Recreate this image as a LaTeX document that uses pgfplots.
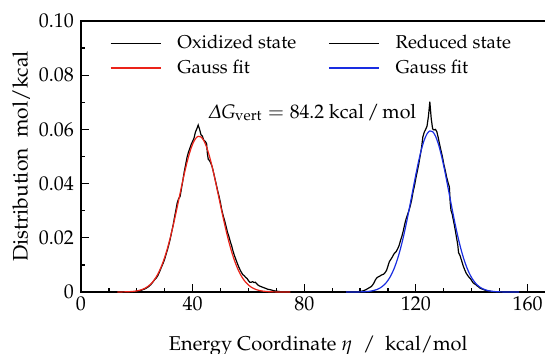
\documentclass[border=0pt]{standalone}
\usepackage[T1]{fontenc}
\usepackage[slantedGreek]{mathpazo}
\usepackage{pgfplots}
\pgfplotsset{compat=1.18}
\definecolor{fitred}{RGB}{235,35,25}
\definecolor{fitblue}{RGB}{25,45,225}

\pgfplotstableread{
x y
18 0
20 0.0002
21 0.0004
22 0.0008
23 0.0012
24 0.0018
25 0.0027
26 0.0040
26.5 0.0047
27 0.0052
27.5 0.0060
28 0.0071
29 0.0096
29.5 0.0108
30 0.0122
30.5 0.0140
31 0.0156
32 0.0197
32.5 0.0222
33 0.0246
33.5 0.0275
34 0.0302
34.5 0.0330
35 0.0345
35.5 0.0352
36 0.0382
36.5 0.0412
37 0.0444
37.5 0.0470
38 0.0497
38.5 0.0516
39 0.0530
39.5 0.0545
40 0.0556
40.5 0.0568
41 0.0590
41.5 0.0602
42 0.0616
42.5 0.0600
43 0.0580
43.5 0.0575
44 0.0560
44.5 0.0556
45 0.0548
45.3 0.0510
45.6 0.0490
46 0.0486
46.5 0.0476
47 0.0462
47.5 0.0441
48 0.0418
48.5 0.0396
49 0.0372
49.5 0.0352
50 0.0328
50.5 0.0300
51 0.0280
51.5 0.0262
52 0.0242
52.5 0.0220
53 0.0205
53.5 0.0186
54 0.0170
54.5 0.0150
55 0.0134
55.5 0.0120
56 0.0106
56.5 0.0093
57 0.0082
57.5 0.0072
58 0.0064
58.5 0.0060
59 0.0054
59.5 0.0050
60 0.0042
60.5 0.0036
61 0.0036
61.5 0.0038
62 0.0035
62.5 0.0036
63 0.0030
63.5 0.0025
64 0.0022
64.5 0.0020
65 0.0018
66 0.0014
67 0.0010
68 0.0008
69 0.0005
70 0.0003
71 0.0002
72 0
78 0
}\oxid

\pgfplotstableread{
x y
96 0
98 0
100 0.0002
101 0.0004
102 0.0008
103 0.0014
104 0.0020
104.5 0.0026
105 0.0034
105.5 0.0045
106 0.0052
106.5 0.0056
107 0.0058
107.5 0.0062
108 0.0064
108.5 0.0066
109 0.0072
109.5 0.0080
110 0.0096
110.5 0.0112
111 0.0120
111.5 0.0128
112 0.0138
112.5 0.0145
113 0.0150
113.5 0.0160
114 0.0172
114.5 0.0190
115 0.0206
115.5 0.0226
116 0.0250
116.5 0.0270
117 0.0285
117.5 0.0300
118 0.0318
118.5 0.0340
119 0.0370
119.5 0.0392
120 0.0420
120.5 0.0445
121 0.0470
121.5 0.0500
122 0.0530
122.5 0.0572
123 0.0590
123.5 0.0600
124 0.0612
124.5 0.0648
125 0.0702
125.5 0.0640
126 0.0602
126.5 0.0598
127 0.0600
127.5 0.0592
128 0.0570
128.5 0.0545
129 0.0522
129.5 0.0500
130 0.0472
130.5 0.0450
131 0.0425
131.5 0.0405
132 0.0388
132.3 0.0330
132.6 0.0300
133 0.0288
133.5 0.0262
134 0.0235
134.5 0.0205
135 0.0175
135.3 0.0145
135.8 0.0135
136.5 0.0112
137 0.0095
137.5 0.0082
138 0.0070
138.5 0.0062
139 0.0055
139.5 0.0050
140 0.0042
140.5 0.0034
141 0.0030
141.5 0.0027
142 0.0022
142.5 0.0019
143 0.0014
144 0.0010
145 0.0006
146 0.0004
147 0.0002
148 0
156 0
}\redu

\pgfplotstableread{
x y
13 0.00001
15 0.00004
17 0.0001
19 0.00026
20 0.00041
21 0.00064
22 0.00097
23 0.00143
24 0.00208
25 0.00295
26 0.00412
27 0.00564
28 0.00757
29 0.00994
30 0.01282
31 0.01620
32 0.02008
33 0.02439
34 0.02903
35 0.03389
36 0.03879
37 0.04352
38 0.04786
39 0.05161
40 0.05456
41 0.05654
42 0.05745
43 0.05722
44 0.05587
45 0.05349
46 0.05020
47 0.04618
48 0.04166
49 0.03684
50 0.03194
51 0.02714
52 0.02261
53 0.01847
54 0.01479
55 0.01161
56 0.00893
57 0.00674
58 0.00499
59 0.00362
60 0.00257
61 0.00179
62 0.00122
63 0.00082
64 0.00054
65 0.00035
67 0.00014
69 0.00005
72 0.00001
75 0
}\redfit

\pgfplotstableread{
x y
95 0
98 0.00001
100 0.00004
102 0.00013
103 0.00022
104 0.00036
105 0.00058
106 0.00091
107 0.00138
108 0.00206
109 0.00301
110 0.00429
111 0.00598
112 0.00815
113 0.01087
114 0.01417
115 0.01806
116 0.02251
117 0.02744
118 0.03270
119 0.03809
120 0.04339
121 0.04834
122 0.05265
123 0.05607
124 0.05838
125 0.05944
126 0.05917
127 0.05760
128 0.05482
129 0.05101
130 0.04642
131 0.04130
132 0.03593
133 0.03057
134 0.02542
135 0.02067
136 0.01643
137 0.01278
138 0.00972
139 0.00722
140 0.00525
141 0.00373
142 0.00259
143 0.00176
144 0.00117
145 0.00076
146 0.00048
148 0.00018
150 0.00006
153 0.00001
157 0
}\bluefit

\begin{document}
\begin{tikzpicture}
\begin{axis}[name=ax, scale only axis, width=237.2pt, height=135.5pt,
  xmin=0, xmax=170, ymin=0, ymax=0.1,
  xtick={0,40,80,120,160}, minor x tick num=3,
  ytick={0,0.02,0.04,0.06,0.08,0.1}, yticklabels={0,0.02,0.04,0.06,0.08,0.10},
  minor y tick num=1,
  tick align=inside, xtick pos=bottom, ytick pos=left,
  major tick length=4pt, minor tick length=2pt,
  axis line style={line width=0.7pt},
  every tick/.style={black, line width=0.6pt},
  xticklabel style={yshift=1.3pt},
  xlabel={Energy Coordinate $\eta$\enspace/\enspace kcal/mol},
  xlabel style={yshift=-6pt, font=\fontsize{10}{12}\selectfont},
  ylabel={Distribution~~mol/kcal},
  ylabel style={yshift=-2.5pt, font=\fontsize{10.5}{12}\selectfont},
  legend columns=2,
  legend cell align=left,
  legend image code/.code={\draw[#1, line width=0.7pt] (0pt,0pt) -- (25pt,0pt);},
  legend style={draw=none, fill=none, at={(axis cs:8.1,0.0978)}, anchor=north west,
    font=\fontsize{9.3}{11}\selectfont,
    /tikz/column 1/.style={column sep=6pt},
    /tikz/column 2/.style={column sep=14pt},
    /tikz/column 3/.style={column sep=6pt}},
]
\addplot[black, line width=0.6pt] table[x=x,y=y] {\oxid};
\addlegendentry{Oxidized state}
\addplot[black, line width=0.6pt] table[x=x,y=y] {\redu};
\addlegendentry{Reduced state}
\addplot[fitred, line width=0.6pt, smooth] table[x=x,y=y] {\redfit};
\addlegendentry{Gauss fit}
\addplot[fitblue, line width=0.6pt, smooth] table[x=x,y=y] {\bluefit};
\addlegendentry{Gauss fit}
\node[anchor=base west, inner sep=0pt, font=\fontsize{9.8}{12}\selectfont] at (axis cs:45.5,0.0642) {$\Delta G_{\mathrm{vert}} = 84.2$ kcal\,/\,mol};
\end{axis}
\pgfresetboundingbox
\useasboundingbox ([xshift=-40.5pt,yshift=-30.5pt]ax.south west) rectangle ([xshift=232pt,yshift=146pt]ax.south west);
\end{tikzpicture}
\end{document}
